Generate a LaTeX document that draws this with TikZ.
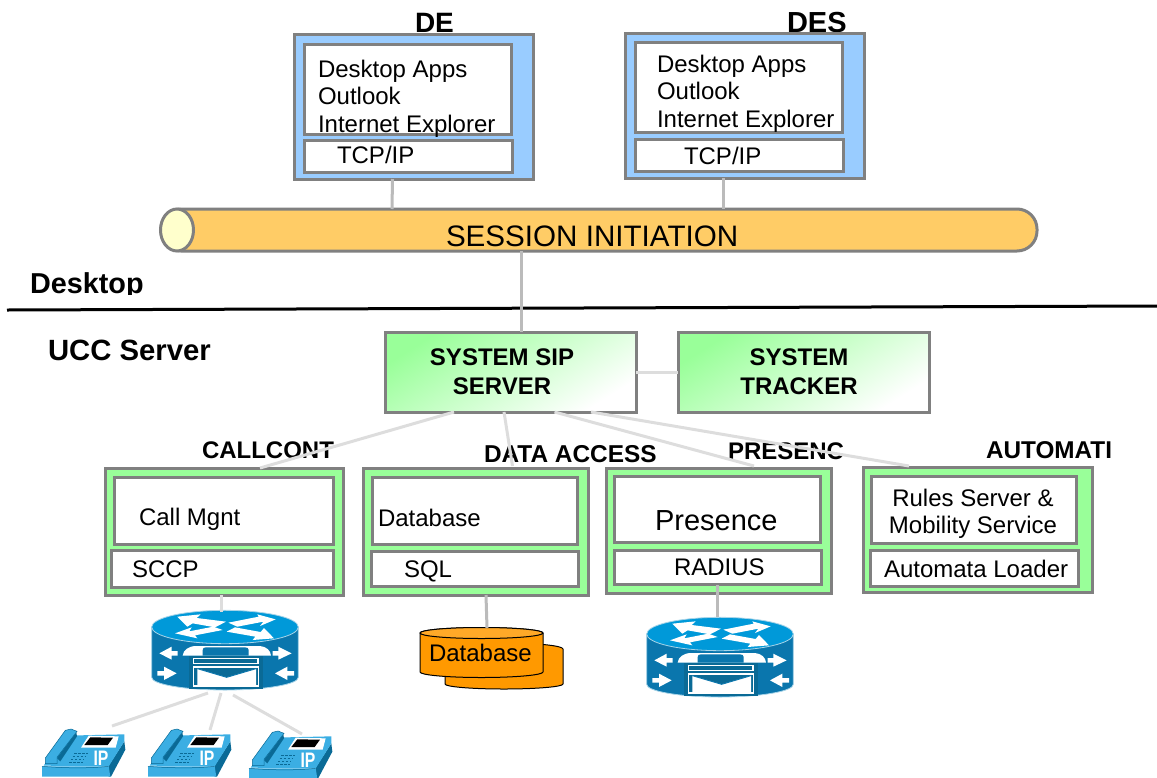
\documentclass[tikz,border=0pt]{standalone}
\usepackage{fontspec}
\setmainfont{Liberation Sans}
\usetikzlibrary{calc,shapes.geometric}
\definecolor{edge}{HTML}{808080}
\definecolor{skyb}{HTML}{99CCFF}
\definecolor{mint}{HTML}{99FF99}
\definecolor{tube}{HTML}{FFCC66}
\definecolor{cream}{HTML}{FFFFCC}
\definecolor{wirea}{HTML}{BBBBBB}
\definecolor{wireb}{HTML}{DDDDDD}
\definecolor{rtop}{HTML}{0099D9}
\definecolor{rside}{HTML}{0A76AD}
\definecolor{redge}{HTML}{A8D4E8}
\definecolor{ptop}{HTML}{3BAEE3}
\definecolor{pside}{HTML}{0A6A96}
\definecolor{dbo}{HTML}{FF9900}
\definecolor{dbt}{HTML}{FFA928}
\newcommand\bx[6]{%
  \pgfmathsetmacro\bxw{#4-#2}\pgfmathsetmacro\bxh{#5-#3}%
  \node[#6,minimum width=\bxw pt,minimum height=\bxh pt] (#1) at ({(#2+#4)/2},{(#3+#5)/2}) {};}
\newcommand\lbl[5]{\node[txt] (#1) at (#2,#3) {\fontsize{#4}{#4}\selectfont #5};}
\newcommand\blb[5]{\node[txt] (#1) at (#2,#3) {\fontsize{#4}{#4}\selectfont\bfseries #5};}
\newcommand\clb[5]{\node[txt,anchor=base] (#1) at (#2,#3) {\fontsize{#4}{#4}\selectfont #5};}
\newcommand\cbl[5]{\node[txt,anchor=base] (#1) at (#2,#3) {\fontsize{#4}{#4}\selectfont\bfseries #5};}
\tikzset{
  x=1pt,y=-1pt,
  txt/.style={inner sep=0pt,outer sep=0pt,anchor=base west,text=black},
  boxb/.style={draw=edge,line width=3pt,fill=white,inner sep=0pt,outer sep=0pt},
  outerblue/.style={boxb,fill=skyb},
  outergreen/.style={boxb,fill=mint},
  grad/.style={draw=edge,line width=3pt,inner sep=0pt,outer sep=0pt,top color=mint,bottom color=white,shading angle=32},
  wa/.style={draw=wirea,line width=3pt},
  wb/.style={draw=wireb,line width=3pt},
  router/.pic={
    \begin{scope}[x=.33333pt,y=-.33333pt,shift={(-375,-111)}]
      \fill[rside,draw=redge,line width=.8pt] (155,111) -- (155,262) arc[start angle=180,end angle=0,x radius=220,y radius=38] -- (595,111) -- cycle;
      \fill[rtop,draw=redge,line width=.8pt] (375,111) ellipse[x radius=220,y radius=50];
      \fill[white] (232,80) -- (302,73) -- (290,84) -- (378,95) -- (345,112) -- (278,100) -- (262,110) -- cycle;
      \fill[white] (527,88) -- (472,73) -- (476,80) -- (385,98) -- (412,110) -- (490,95) -- (480,108) -- cycle;
      \fill[white] (225,130) -- (292,145) -- (285,136) -- (368,120) -- (340,110) -- (268,124) -- (275,112) -- cycle;
      \fill[white] (522,145) -- (458,150) -- (466,140) -- (380,125) -- (405,112) -- (482,126) -- (492,114) -- cycle;
      \fill[white] (248,197) .. controls (250,180) and (265,168) .. (290,168) -- (480,168) .. controls (500,170) and (512,182) .. (513,197) -- cycle;
      \fill[rside] (308,197) -- (308,180) .. controls (308,174) and (312,172) .. (318,172) -- (435,172) .. controls (442,172) and (446,175) .. (446,180) -- (446,197) -- cycle;
      \fill[pside] (266,199) rectangle (490,298);
      \fill[white] (278,204) rectangle (476,223);
      \fill[pside] (283,208) rectangle (471,219);
      \fill[white] (278,229) rectangle (478,290);
      \fill[pside] (283,233) rectangle (473,286);
      \fill[white] (292,236) -- (380,262) -- (468,236) -- (468,286) -- (292,286) -- cycle;
      \draw[rside,line width=.9pt] (292,236) -- (380,262) -- (468,236);
      \fill[white] (178,190) -- (215,170) -- (215,183) -- (233,183) -- (233,197) -- (215,197) -- (215,209) -- cycle;
      \fill[white] (575,190) -- (535,170) -- (535,183) -- (518,183) -- (518,197) -- (535,197) -- (535,209) -- cycle;
      \fill[white] (230,250) -- (192,230) -- (192,243) -- (172,243) -- (172,257) -- (192,257) -- (192,270) -- cycle;
      \fill[white] (525,250) -- (562,230) -- (562,243) -- (582,243) -- (582,257) -- (562,257) -- (562,270) -- cycle;
    \end{scope}
    \coordinate (-c) at (0,0);
  },
  phone/.pic={
    \begin{scope}[x=.33333pt,y=-.33333pt,shift={(-145,-418)}]
      \fill[pside] (345,528) -- (392,455) -- (395,480) -- (352,561) -- (345,561) -- cycle;
      \fill[ptop] (145,530) -- (345,530) -- (350,561) -- (145,561) -- cycle;
      \fill[ptop] (150,528) -- (212,438) -- (392,434) -- (392,455) -- (345,530) -- cycle;
      \draw[pside,line width=.5pt] (145,530) .. controls (220,536) and (290,536) .. (345,530);
      \fill[pside] (190,505) -- (248,428) -- (250,440) -- (200,515) -- cycle;
      \fill[ptop,draw=pside,line width=.5pt] (155,505) -- (215,422) -- (232,418) -- (250,425) -- (190,503) -- (190,522) -- (155,522) -- cycle;
      \fill[white] (262,474) -- (285,438) -- (375,440) -- (366,474) -- cycle;
      \fill[black] (272,466) -- (290,443) -- (358,444) -- (342,466) -- cycle;
      \foreach \r in {0,1,2,3}{
        \draw[pside,line width=1.1pt,dash pattern=on 2.2pt off 1.8pt] ({242-\r*5},{492+\r*9}) -- ({282-\r*5},{492+\r*9});
      }
      \node[inner sep=0pt,text=white,xscale=.75] at (322,507) {\fontsize{21}{21}\selectfont\bfseries IP};
    \end{scope}
    \coordinate (-c) at (0,0);
  },
}
\begin{document}
\begin{tikzpicture}
\useasboundingbox (0,0) rectangle (1157,777);
% labels behind the boxes
\blb{lde}{415}{32}{28}{DE}
\blb{ldes}{787}{32}{29}{DES}
\blb{ldesk}{30}{293}{28.8}{Desktop}
\fill[white] (20,295) rectangle (160,304);
\blb{lucc}{48}{360}{29.3}{UCC Server}
\blb{lcc}{202}{458}{24}{CALLCONT}
\blb{lda}{484}{462}{24.4}{DATA ACCESS}
\blb{lpr}{728}{459}{24}{PRESENC}
\blb{lau}{986}{458}{24.3}{AUTOMATI}
% desktops
\bx{de}{294}{34}{533}{179}{outerblue}
\bx{dea}{304}{44}{511}{134}{boxb}
\bx{det}{304}{140}{512}{172}{boxb}
\bx{ds}{625}{33}{864}{178}{outerblue}
\bx{dsa}{635}{42}{842}{132}{boxb}
\bx{dst}{635}{139}{843}{171}{boxb}
% bus
\bx{bus}{161}{209}{1037}{251}{draw=edge,line width=3pt,fill=tube,rounded corners=20pt,inner sep=0pt,outer sep=0pt}
\node[ellipse,draw=edge,line width=3pt,fill=cream,minimum width=33pt,minimum height=42pt,inner sep=0pt] (busend) at (177,230) {};
% separator
\coordinate (sepa) at (7,310);
\coordinate (sepb) at (1157,306);
\draw[black,line width=3pt] (sepa) -- (sepb);
% servers
\bx{sip}{385}{332}{636}{412}{grad}
\bx{trk}{678}{332}{929}{412}{grad}
% groups
\bx{cc}{105}{468}{343}{595}{outergreen}
\bx{cca}{114}{477}{333}{544}{boxb}
\bx{ccb}{111}{550}{333}{587}{boxb}
\bx{da}{363}{468}{588}{595}{outergreen}
\bx{daa}{372}{477}{577}{544}{boxb}
\bx{dab}{371}{551}{578}{586}{boxb}
\bx{pr}{606}{468}{831}{593}{outergreen}
\bx{pra}{614}{476}{820}{542}{boxb}
\bx{prb}{614}{550}{821}{584}{boxb}
\bx{au}{863}{467}{1092}{592}{outergreen}
\bx{aua}{871}{476}{1076}{543}{boxb}
\bx{aub}{870}{550}{1078}{586}{boxb}
% devices
\pic (r1) at (225,627) {router};
\pic (r2) at (720,634) {router};
\pic (p1) at (42,729) {phone};
\pic (p2) at (148,729) {phone};
\pic (p3) at (249,731) {phone};
% databases
\begin{scope}[draw=black,line width=1pt]
  \path[fill=dbo,draw] (445,649) -- (445,684) arc[start angle=180,end angle=0,x radius=59,y radius=5] -- (563,649) arc[start angle=0,end angle=-180,x radius=59,y radius=6] -- cycle;
  \path[fill=dbo,draw] (420,633) -- (420,672) arc[start angle=180,end angle=0,x radius=61.5,y radius=5.5] -- (543,633) arc[start angle=0,end angle=-180,x radius=61.5,y radius=5.5] -- cycle;
  \path[fill=dbt,draw] (481.5,633) ellipse[x radius=61.5,y radius=5.5];
\end{scope}
\coordinate (dbc) at (487,628);
% connectors
\draw[wa] ($(de.south)+(-21,0)$) -- ($(bus.north)+(-207,0)$);
\draw[wa] ($(ds.south)+(-21.5,0)$) -- ($(bus.north)+(124,0)$);
\draw[wa] ($(bus.south)+(-78,0)$) -- ($(sip.north)+(10.5,0)$);
\draw[wb] (sip.east) -- (trk.west);
\draw[wb] ($(sip.south)+(-56.5,0)$) -- ($(cc.north)+(36,0)$);
\draw[wb] ($(sip.south)+(-6.5,0)$) -- ($(da.north)+(37,-2)$);
\draw[wb] ($(sip.south)+(44,0)$) -- ($(pr.north)+(35.5,-2)$);
\draw[wb] ($(sip.south)+(80.5,0)$) -- ($(au.north)+(-68.5,-1)$);
\draw[wb] ($(cc.south)+(-3,0)$) -- ($(r1-c)+(-4,-15)$);
\draw[wa] ($(da.south)+(10.5,0)$) -- (dbc);
\draw[wa] ($(pr.south)+(-1.5,-8)$) -- ($(r2-c)+(-3,-17)$);
\draw[wb] ($(r1-c)+(-17,66)$) -- ($(p1-c)+(70,-3)$);
\draw[wb] ($(r1-c)+(-4,66)$) -- ($(p2-c)+(62,1)$);
\draw[wb] ($(r1-c)+(8,68)$) -- ($(p3-c)+(53,3)$);
% texts
\lbl{t1}{318}{77}{24}{Desktop Apps}
\lbl{t2}{318}{104}{24}{Outlook}
\lbl{t3}{318}{132}{24}{Internet Explorer}
\lbl{t4}{337}{163}{24}{TCP/IP}
\lbl{t5}{657}{72}{24}{Desktop Apps}
\lbl{t6}{657}{99}{24}{Outlook}
\lbl{t7}{657}{127}{24}{Internet Explorer}
\lbl{t8}{684}{164}{24}{TCP/IP}
\lbl{t9}{446}{246}{29.6}{SESSION INITIATION}
\cbl{t10}{502}{365}{24}{SYSTEM SIP}
\cbl{t11}{502}{394}{24}{SERVER}
\cbl{t12}{799}{365}{24}{SYSTEM}
\cbl{t13}{799}{394}{24}{TRACKER}
\lbl{t14}{139}{525}{24}{Call Mgnt}
\lbl{t15}{132}{577}{24}{SCCP}
\lbl{t16}{378}{526}{24}{Database}
\lbl{t17}{404}{577}{24}{SQL}
\lbl{t18}{655}{530}{29}{Presence}
\lbl{t19}{674}{575}{24}{RADIUS}
\clb{t20}{973}{506}{24}{Rules Server \&}
\clb{t21}{973}{533}{24}{Mobility Service}
\lbl{t22}{884}{577}{24}{Automata Loader}
\lbl{t23}{429}{661}{24}{Database}
\end{tikzpicture}
\end{document}
